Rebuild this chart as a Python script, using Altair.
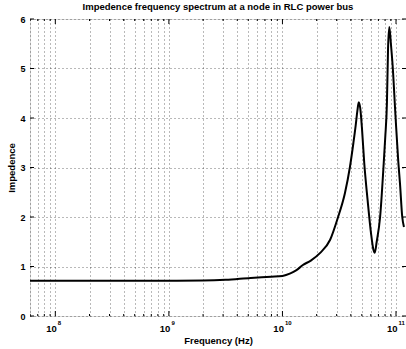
import altair as alt
import pandas as pd

# Curve data (log10 of frequency in Hz, impedance)
freq_exp = [7.777, 8.5, 9.0, 9.3, 9.5, 9.72, 9.9, 10.0, 10.07, 10.12, 10.18, 10.25,
            10.33, 10.42, 10.49, 10.55, 10.595, 10.625, 10.645, 10.66, 10.672,
            10.685, 10.70, 10.72, 10.75, 10.78, 10.80, 10.813, 10.83, 10.86,
            10.89, 10.905, 10.92, 10.93, 10.941, 10.955, 10.97, 10.995, 11.02,
            11.035, 11.055, 11.07]
impedance = [0.71, 0.71, 0.712, 0.715, 0.73, 0.77, 0.795, 0.81, 0.86, 0.92, 1.03, 1.12,
             1.27, 1.54, 2.0, 2.48, 3.02, 3.5, 3.85, 4.15, 4.32,
             4.2, 3.8, 3.1, 2.34, 1.67, 1.35, 1.28, 1.5, 2.0,
             3.02, 3.6, 4.3, 5.41, 5.84, 5.5, 5.07, 4.06, 3.12,
             2.68, 2.0, 1.80]

x_major = [1e8, 1e9, 1e10, 1e11]
x_exponents = ["8", "9", "10", "11"]
x_minor = [6e7, 7e7, 8e7, 9e7,
           2e8, 3e8, 4e8, 5e8, 6e8, 7e8, 8e8, 9e8,
           2e9, 3e9, 4e9, 5e9, 6e9, 7e9, 8e9, 9e9,
           2e10, 3e10, 4e10, 5e10, 6e10, 7e10, 8e10, 9e10]
y_ticks = [0, 1, 2, 3, 4, 5, 6]

x_domain = [10 ** 7.777, 10 ** 11.088]

df = pd.DataFrame({"f": [10 ** e for e in freq_exp], "z": impedance})
grid_vals = sorted(x_minor + x_major)

FONT = "Liberation Sans"
xscale = alt.Scale(type="log", domain=x_domain, nice=False)
yscale = alt.Scale(domain=[0, 6], nice=False)

xaxis = alt.Axis(values=grid_vals, labels=False, grid=True,
                 gridDash=[1, 3], gridColor="#000", gridOpacity=0.55,
                 ticks=False, domain=False,
                 titleFont=FONT, titleFontWeight="bold",
                 titleFontSize=9.5, titlePadding=19, titleColor="black")
yaxis = alt.Axis(values=y_ticks, grid=True, gridDash=[1, 3],
                 gridColor="#000", gridOpacity=0.55, ticks=False,
                 domain=False, labelFont=FONT, labelFontWeight="bold",
                 labelFontSize=9, labelPadding=5, labelColor="black",
                 titleFont=FONT, titleFontWeight="bold", titleFontSize=9.5,
                 titlePadding=3, titleColor="black")

X = lambda: alt.X("f:Q", scale=xscale, title="Frequency (Hz)", axis=xaxis)
Y = lambda: alt.Y("z:Q", scale=yscale, title="Impedence", axis=yaxis)

line = alt.Chart(df).mark_line(color="black", strokeWidth=2, clip=True,
                               interpolate="monotone").encode(x=X(), y=Y())

major_df = pd.DataFrame({"f": x_major, "e": x_exponents})
minor_df = pd.DataFrame({"f": x_minor})
ytick_df = pd.DataFrame({"z": y_ticks})

H = 297
W = 376

def xticks(data, length):
    base = alt.Chart(data)
    bottom = base.mark_rule(color="black", strokeWidth=1, clip=True).encode(
        x=X(), y=alt.value(H), y2=alt.value(H - length))
    top = base.mark_rule(color="black", strokeWidth=1, clip=True).encode(
        x=X(), y=alt.value(0), y2=alt.value(length))
    return bottom + top

yt = alt.Chart(ytick_df)
yleft = yt.mark_rule(color="black", strokeWidth=1).encode(
    y=Y(), x=alt.value(0), x2=alt.value(4))
yright = yt.mark_rule(color="black", strokeWidth=1).encode(
    y=Y(), x=alt.value(W), x2=alt.value(W - 4))

base_lbl = alt.Chart(major_df).mark_text(
    text="10", font=FONT, fontWeight="bold", fontSize=9.5, align="right",
    baseline="alphabetic", dx=1.5, color="black").encode(
    x=X(), y=alt.value(H + 16))
exp_lbl = alt.Chart(major_df).mark_text(
    font=FONT, fontWeight="bold", fontSize=6, align="left",
    baseline="alphabetic", dx=2.5, color="black").encode(
    x=X(), y=alt.value(H + 9), text="e:N")

chart = alt.layer(
    line, xticks(major_df[["f"]], 5), xticks(minor_df, 2), yleft, yright,
    base_lbl, exp_lbl
).properties(
    width=W, height=H,
    title=alt.TitleParams("Impedence frequency spectrum at a node in RLC power bus",
                          font=FONT, fontSize=9.5, fontWeight="bold", color="black",
                          anchor="middle", offset=4),
    autosize=alt.AutoSizeParams(type="none"),
    padding={"left": 30, "top": 19, "right": 0, "bottom": 33},
).configure_view(stroke="black", strokeWidth=1.2).configure(background="white")

chart.save("out.html", embed_options={"renderer": "svg", "actions": False})
